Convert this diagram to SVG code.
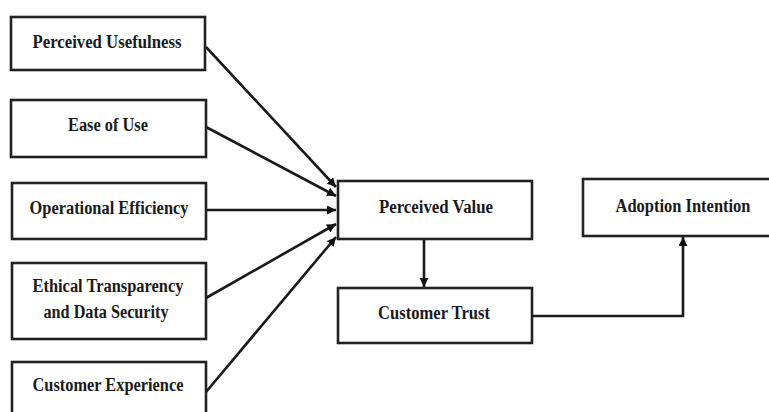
<svg xmlns="http://www.w3.org/2000/svg" width="769" height="412" viewBox="0 0 769 412">
<defs>
<style>
.box{fill:#fff;stroke:#222;stroke-width:2.6}
.lbl{font-family:"Liberation Serif","Times New Roman",serif;font-weight:bold;font-size:18.5px;fill:#1a1a1a;text-anchor:middle}
.con{fill:none;stroke:#1a1a1a;stroke-width:2.6}
</style>
<marker id="ah" viewBox="0 0 10 10" refX="10" refY="5" markerWidth="9" markerHeight="9" markerUnits="userSpaceOnUse" orient="auto">
<path d="M0,0 L10,5 L0,10 Z" fill="#111"/>
</marker>
</defs>
<rect width="769" height="412" fill="#fff"/>
<g id="connectors">
<line class="con" x1="206" y1="47" x2="336" y2="187" marker-end="url(#ah)"/>
<line class="con" x1="206" y1="127" x2="336" y2="196" marker-end="url(#ah)"/>
<line class="con" x1="206" y1="210" x2="336" y2="210" marker-end="url(#ah)"/>
<line class="con" x1="206" y1="298" x2="336" y2="224" marker-end="url(#ah)"/>
<line class="con" x1="206" y1="392" x2="336" y2="237" marker-end="url(#ah)"/>
<line class="con" x1="424" y1="239" x2="424" y2="287" marker-end="url(#ah)"/>
<polyline class="con" points="532,316 683,316 683,237" marker-end="url(#ah)"/>
</g>
<g id="n1"><rect class="box" x="11" y="17" width="194" height="53"/><text class="lbl" x="107" y="48" textLength="149" lengthAdjust="spacingAndGlyphs">Perceived Usefulness</text></g>
<g id="n2"><rect class="box" x="11" y="100" width="195" height="57"/><text class="lbl" x="108" y="131" textLength="80" lengthAdjust="spacingAndGlyphs">Ease of Use</text></g>
<g id="n3"><rect class="box" x="12" y="183" width="194" height="56"/><text class="lbl" x="109" y="214" textLength="159" lengthAdjust="spacingAndGlyphs">Operational Efficiency</text></g>
<g id="n4"><rect class="box" x="12" y="263" width="194" height="76"/><text class="lbl" x="108" y="292" textLength="151" lengthAdjust="spacingAndGlyphs">Ethical Transparency</text><text class="lbl" x="106" y="318" textLength="125" lengthAdjust="spacingAndGlyphs">and Data Security</text></g>
<g id="n5"><rect class="box" x="12" y="362" width="194" height="60"/><text class="lbl" x="108" y="391" textLength="151" lengthAdjust="spacingAndGlyphs">Customer Experience</text></g>
<g id="n6"><rect class="box" x="338" y="181" width="194" height="58"/><text class="lbl" x="436" y="213" textLength="114" lengthAdjust="spacingAndGlyphs">Perceived Value</text></g>
<g id="n7"><rect class="box" x="338" y="288" width="194" height="55"/><text class="lbl" x="434" y="319" textLength="112" lengthAdjust="spacingAndGlyphs">Customer Trust</text></g>
<g id="n8"><rect class="box" x="583" y="179" width="200" height="57"/><text class="lbl" x="683" y="212" textLength="135" lengthAdjust="spacingAndGlyphs">Adoption Intention</text></g>
</svg>
